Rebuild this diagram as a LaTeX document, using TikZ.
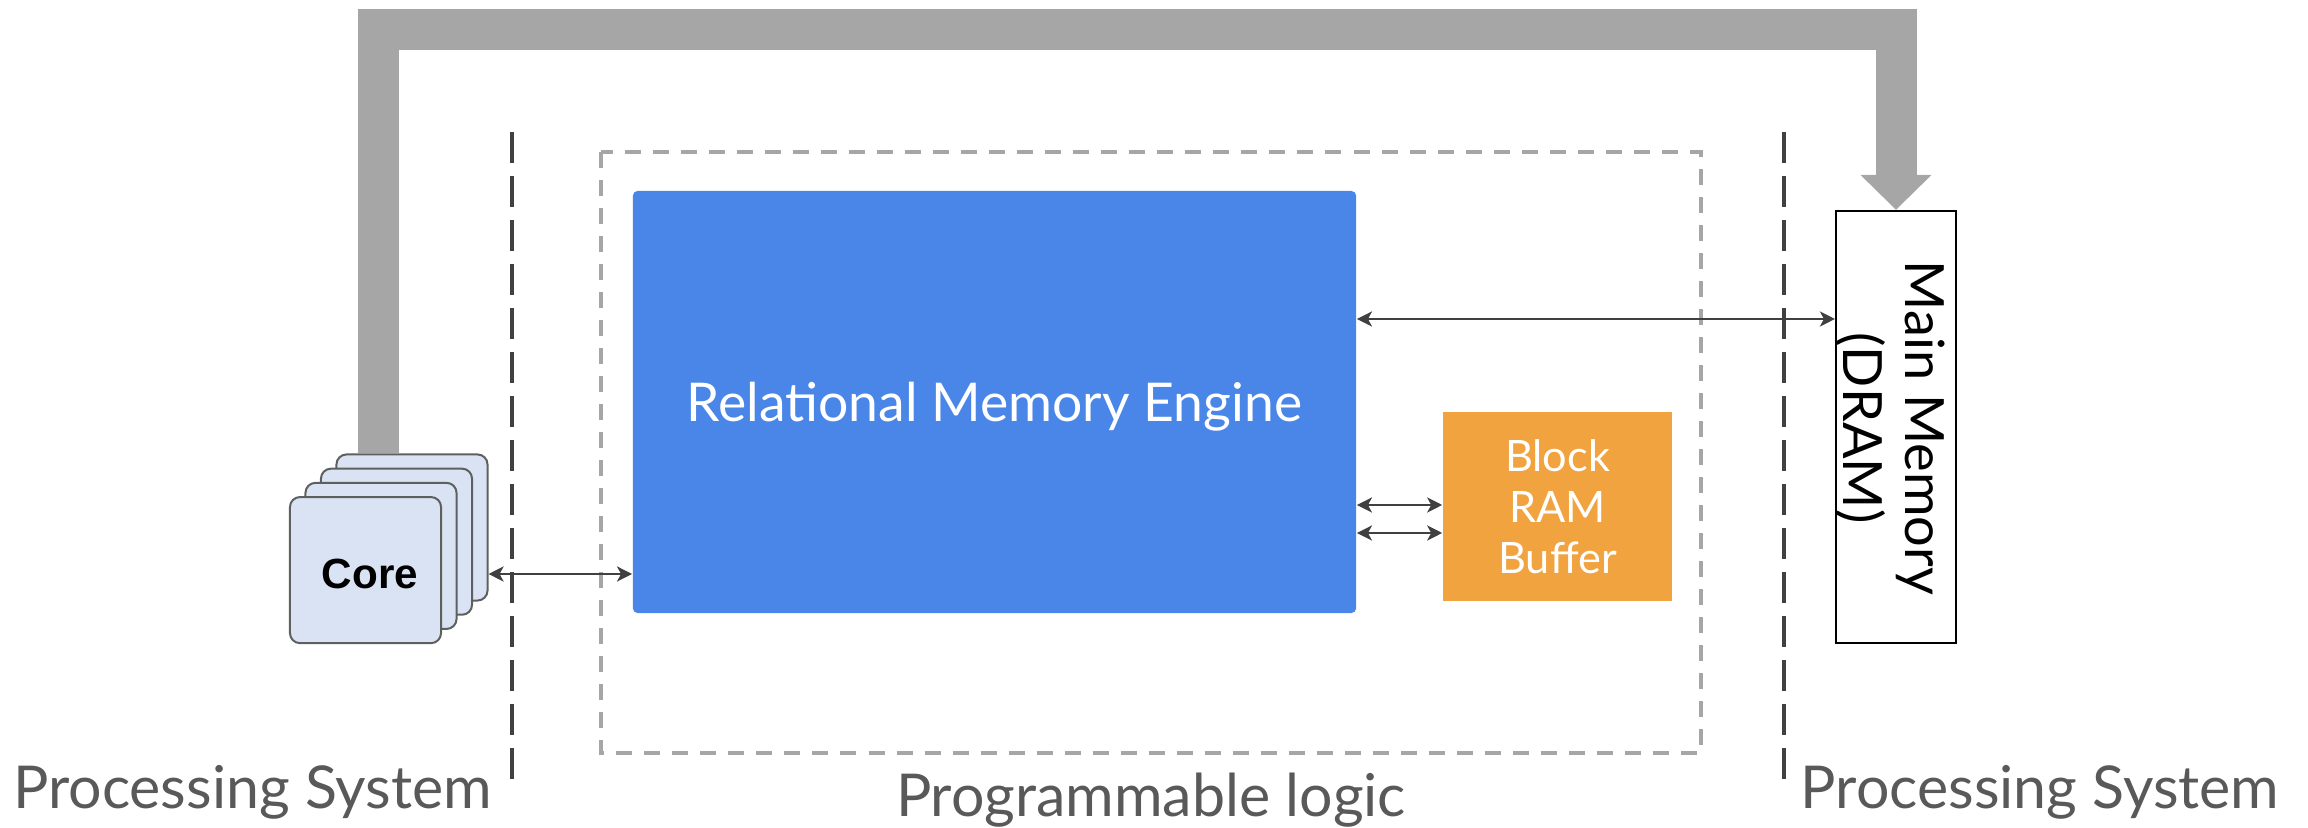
\documentclass[tikz,border=0pt]{standalone}
\usepackage{fontspec}
\setmainfont{Lato}
\newfontfamily\arialFont{Liberation Sans}
\usetikzlibrary{arrows.meta}
\definecolor{busGray}{RGB}{166,166,166}
\definecolor{cardFill}{RGB}{218,227,243}
\definecolor{cardLine}{RGB}{95,95,95}
\definecolor{engineBlue}{RGB}{74,134,232}
\definecolor{bufferOrange}{RGB}{241,163,63}
\definecolor{linkGray}{RGB}{64,64,64}
\definecolor{labelGray}{RGB}{89,89,89}
\tikzstyle{canvas} = [x = 0.01cm, y = -0.01cm]
\tikzstyle{systemDivider} = [color=linkGray, line width=0.04cm, dash pattern=on 0.31cm off 0.13cm]
\tikzstyle{logicFrame} = [color=busGray, line width=0.04cm, dash pattern=on 0.16cm off 0.12cm]
\tikzstyle{coreCard} = [draw=cardLine, fill=cardFill, line width=0.02cm, rounded corners=0.1cm, minimum width=1.51cm, minimum height=1.46cm, inner sep=0]
\tikzstyle{coreText} = [font=\arialFont\bfseries\fontsize{12}{14}\selectfont]
\tikzstyle{engineBox} = [fill=engineBlue, rounded corners=0.05cm, minimum width=7.23cm, minimum height=4.22cm, inner sep=0, text=white, text depth=0pt, font=\fontsize{15.2}{18}\selectfont]
\tikzstyle{bufferBox} = [fill=bufferOrange, minimum width=2.29cm, minimum height=1.89cm, inner sep=0, text=white, align=center, font=\fontsize{12.3}{14.5}\selectfont]
\tikzstyle{memoryBox} = [draw=black, fill=white, line width=0.02cm, minimum width=1.2cm, minimum height=4.32cm, inner sep=0]
\tikzstyle{memoryText} = [rotate=-90, align=center, inner sep=0, font=\fontsize{15.4}{17.6}\selectfont]
\tikzstyle{systemLabel} = [text=labelGray, anchor=base, inner sep=0, font=\fontsize{16.8}{20}\selectfont]
\tikzstyle{linkArrow} = [color=linkGray, line width=0.027cm, {Stealth[length=0.15cm, width=0.15cm, inset=0.04cm]}-{Stealth[length=0.15cm, width=0.15cm, inset=0.04cm]}]
\tikzstyle{busArrow} = [draw=busGray, line width=0.41cm, -{Triangle[length=0.35cm, width=0.69cm]}]

\begin{document}
\begin{tikzpicture}[canvas]
  \useasboundingbox (0,0) rectangle (2308,828);
  \draw [systemDivider] (512,132) -- (512,780);
  \draw [systemDivider] (1784,132) -- (1784,780);
  \draw [logicFrame] (601,152) rectangle (1701,753);

  \foreach \i in {0,...,3} {
    \node [coreCard] (core\i) at (412 - 15.5 * \i, 527.5 + 14.2 * \i) {};
  }
  \node [coreText] (coreLabel) at (370,574) {Core};

  \node [engineBox] (rme) at (994.5,402) {Relational Memory Engine};
  \node [bufferBox] (bram) at (1557.5,506.5) {Block\\RAM\\Buffer};
  \node [memoryBox] (dram) at (1896,427) {};
  \node [memoryText] (dramLabel) at (1890,428) {Main Memory\\(DRAM)};

  \coordinate (busTop) at (378.5,29.5);
  \draw [busArrow] (busTop |- core0.north) -- (busTop) -| (dram.north);

  \draw [linkArrow] (core0.east |- 0,574) -- (rme.west |- 0,574);
  \draw [linkArrow] (rme.east |- 0,319) -- (dram.west |- 0,319);
  \draw [linkArrow] (rme.east |- 0,505) -- (bram.west |- 0,505);
  \draw [linkArrow] (rme.east |- 0,533) -- (bram.west |- 0,533);

  \node [systemLabel] (psLeft) at (252.5,809) {Processing System};
  \node [systemLabel] (plLabel) at (1151,817) {Programmable logic};
  \node [systemLabel] (psRight) at (2040,809) {Processing System};
\end{tikzpicture}
\end{document}
